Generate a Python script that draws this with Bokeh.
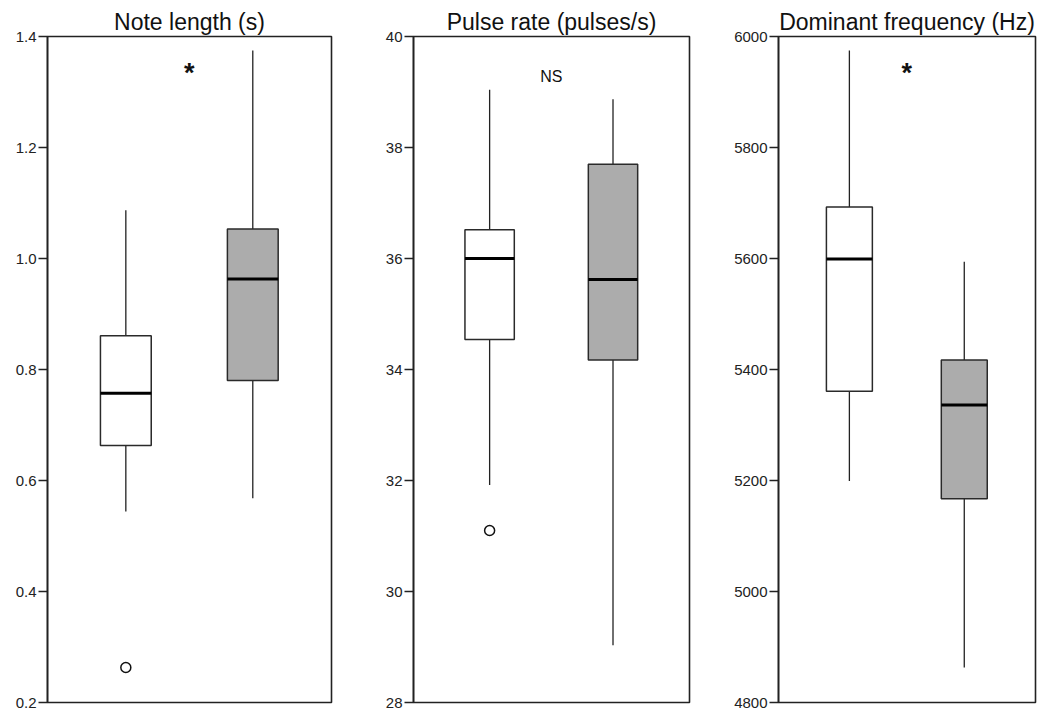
from bokeh.plotting import figure
from bokeh.layouts import row
from bokeh.models import Range1d, FixedTicker, ColumnDataSource
from bokeh.embed import file_html
from bokeh.resources import INLINE
from bokeh.core.properties import value

titles = ["Note length (s)", "Pulse rate (pulses/s)", "Dominant frequency (Hz)"]
groups = [1, 2]
# per panel: [group 1, group 2]
whisker_low = [[0.544, 0.568], [31.92, 29.03], [5199, 4863]]
q1 = [[0.663, 0.780], [34.54, 34.17], [5361, 5167]]
median = [[0.757, 0.963], [36.00, 35.62], [5599, 5336]]
q3 = [[0.861, 1.053], [36.52, 37.70], [5693, 5417]]
whisker_high = [[1.087, 1.375], [39.04, 38.87], [5975, 5594]]
outlier_group = [[1], [1], []]
outlier_value = [[0.263], [31.10], []]
sig_labels = ["*", "NS", "*"]
sig_y = [1.335, 39.28, 5935]
y_limits = [(0.2, 1.4), (28, 40), (4800, 6000)]
y_ticks = [[0.2, 0.4, 0.6, 0.8, 1.0, 1.2, 1.4],
           [28, 30, 32, 34, 36, 38, 40],
           [4800, 5000, 5200, 5400, 5600, 5800, 6000]]
y_tick_labels = [["0.2", "0.4", "0.6", "0.8", "1.0", "1.2", "1.4"],
                 ["28", "30", "32", "34", "36", "38", "40"],
                 ["4800", "5000", "5200", "5400", "5600", "5800", "6000"]]
box_colors = ["#ffffff", "#acacac"]

# layout (pixels)
fig_widths = [360, 365, 312]
borders_left = [47, 53, 53]
borders_right = [29, 36, 2]
FIG_H = 711
BOX_W = 0.40
FONT = "Liberation Sans"

figs = []
for i in range(3):
    p = figure(width=fig_widths[i], height=FIG_H, output_backend="svg",
               toolbar_location=None, x_range=Range1d(0.383, 2.62),
               y_range=Range1d(*y_limits[i]), x_axis_location=None,
               min_border_left=borders_left[i], min_border_right=borders_right[i],
               min_border_top=36, min_border_bottom=9,
               background_fill_color="white", border_fill_color="white")
    p.title.text = titles[i]
    p.title.text_font = FONT
    p.title.text_font_size = "23px"
    p.title.text_font_style = "normal"
    p.title.align = "center"
    p.title.text_color = "#111111"
    p.title.standoff = 3
    p.outline_line_color = "#222222"
    p.outline_line_width = 1.6
    p.xgrid.visible = False
    p.ygrid.visible = False

    ax = p.yaxis[0]
    ax.ticker = FixedTicker(ticks=y_ticks[i])
    ax.major_label_overrides = {t: l for t, l in zip(y_ticks[i], y_tick_labels[i])}
    ax.major_tick_out = 9
    ax.major_tick_in = 0
    ax.minor_tick_out = 0
    ax.minor_tick_in = 0
    ax.major_tick_line_color = "#222222"
    ax.major_tick_line_width = 1.3
    ax.axis_line_color = "#222222"
    ax.axis_line_width = 1.6
    ax.major_label_text_font = FONT
    ax.major_label_text_font_size = "15px"
    ax.major_label_text_color = "#222222"
    ax.major_label_standoff = 2

    src = ColumnDataSource(dict(
        x=groups, lo=whisker_low[i], q1=q1[i], med=median[i], q3=q3[i],
        hi=whisker_high[i], color=box_colors,
        xl=[g - BOX_W / 2 for g in groups], xr=[g + BOX_W / 2 for g in groups]))

    # whiskers
    p.segment(x0="x", y0="q3", x1="x", y1="hi", source=src,
              line_color="#222222", line_width=1.3)
    p.segment(x0="x", y0="q1", x1="x", y1="lo", source=src,
              line_color="#222222", line_width=1.3)
    # boxes
    p.vbar(x="x", width=BOX_W, top="q3", bottom="q1", source=src,
           fill_color="color", line_color="#2a2a2a", line_width=1.5)
    # medians
    p.segment(x0="xl", y0="med", x1="xr", y1="med", source=src,
              line_color="#000000", line_width=3)
    # outliers
    if outlier_group[i]:
        p.scatter(x=outlier_group[i], y=outlier_value[i], marker="circle", size=10,
                  fill_color="white", line_color="#111111", line_width=1.5)
    # significance label
    is_star = sig_labels[i] == "*"
    p.text(x=[1.5], y=[sig_y[i]], text=[sig_labels[i]],
           text_font=value(FONT), text_font_size="27px" if is_star else "16px",
           text_font_style="bold" if is_star else "normal",
           text_align="center", text_baseline="middle", text_color="#111111")
    figs.append(p)

layout = row(*figs)
open("out.html", "w").write(file_html(layout, INLINE))
